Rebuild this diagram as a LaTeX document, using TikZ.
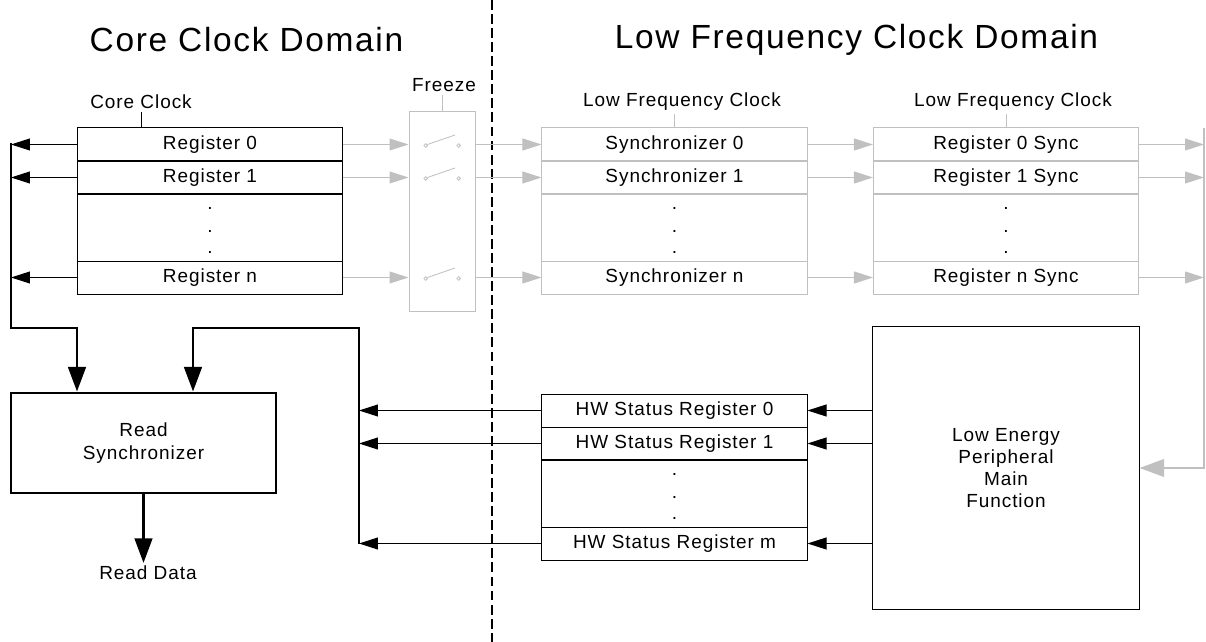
\documentclass[tikz,border=0pt]{standalone}
\usepackage{fontspec}
\setmainfont{Liberation Sans}[LetterSpace=5]
\usetikzlibrary{arrows.meta}
\definecolor{lfgray}{RGB}{192,192,192}

\begin{document}
\begin{tikzpicture}[x=0.025cm,y=-0.025cm,
        every node/.style={font=\fontsize{13.5}{16.5}\selectfont},
        regbox/.style={draw,line width=0.7pt,minimum width=6.625cm,minimum height=0.825cm,inner sep=0pt},
        dotbox/.style={regbox,minimum height=1.675cm},
        lfbox/.style={regbox,draw=lfgray},
        lfdots/.style={dotbox,draw=lfgray},
        clklabel/.style={inner sep=2pt},
        title/.style={font=\fontsize{23.8}{28}\selectfont},
        thin arrow/.style={line width=0.7pt,-{Triangle[length=13.5pt,width=8.5pt]}},
        thick arrow/.style={line width=2pt,-{Triangle[length=17.5pt,width=12.5pt]}},
        gray arrow/.style={thin arrow,color=lfgray},
        gray thick arrow/.style={thick arrow,line width=1.5pt,color=lfgray},
        switch/.style={lfgray,line width=0.6pt}]
    \useasboundingbox (0,0) rectangle (1206,642);

    % Domain titles and border
    \node[title] (cctitle) at (246.5,40) {Core Clock Domain};
    \node[title] (lftitle) at (856.5,40) {Low Frequency Clock Domain};
    \draw[line width=1.4pt,dash pattern=on 7pt off 3pt] (492,0) -- (492,642);

    % Core clock registers
    \node[regbox] (reg0) at (210,144.5) {Register 0};
    \node[regbox] (reg1) at (210,177.5) {Register 1};
    \node[dotbox] (regd) at (210,227.5) {};
    \node[regbox] (regn) at (210,277.5) {Register n};
    \node[clklabel] (ccl) at (141,102) {Core Clock};
    \draw[line width=0.7pt] (ccl.south) -- (ccl.south |- reg0.north);

    % Freeze switches
    \node[draw=lfgray,line width=0.7pt,minimum width=1.65cm,minimum height=4.975cm,inner sep=0pt] (frz) at (442,211.5) {};
    \node[clklabel] (frzl) at (444,85) {Freeze};
    \draw[lfgray,line width=0.7pt] (frz.north) -- (frz.north |- frzl.south);
    \foreach \sy in {144.5,177.5,277.5} {
        \draw[switch] (425.7,\sy+1) circle[radius=1.3pt] (458.7,\sy+1) circle[radius=1.3pt];
        \draw[switch] (427.5,\sy) -- (455,\sy-9.5);
    }

    % Synchronizers
    \node[lfbox] (sync0) at (674.5,144.5) {Synchronizer 0};
    \node[lfbox] (sync1) at (674.5,177.5) {Synchronizer 1};
    \node[lfdots] (syncd) at (674.5,227.5) {};
    \node[lfbox] (syncn) at (674.5,277.5) {Synchronizer n};
    \node[clklabel] (lfc1) at (682,102) {Low Frequency Clock};
    \draw[lfgray,line width=0.7pt] (sync0.north) -- (sync0.north |- lfc1.south);

    % Register syncs
    \node[lfbox] (rsync0) at (1006,144.5) {Register 0 Sync};
    \node[lfbox] (rsync1) at (1006,177.5) {Register 1 Sync};
    \node[lfdots] (rsyncd) at (1006,227.5) {};
    \node[lfbox] (rsyncn) at (1006,277.5) {Register n Sync};
    \node[clklabel] (lfc2) at (1013,102) {Low Frequency Clock};
    \draw[lfgray,line width=0.7pt] (rsync0.north) -- (rsync0.north |- lfc2.south);

    % HW status registers
    \node[regbox] (hw0) at (674.5,410.5) {HW Status Register 0};
    \node[regbox] (hw1) at (674.5,443.5) {HW Status Register 1};
    \node[dotbox] (hwd) at (674.5,493.5) {};
    \node[regbox] (hwm) at (674.5,543.5) {HW Status Register m};

    % dots
    \foreach \bx/\by in {210/194,674.5/194,1006/194,674.5/460}
        \foreach \dy in {16,39,60}
            \node[anchor=base,inner sep=0pt] at (\bx,\by+\dy) {.};

    % Read synchronizer and peripheral
    \node[draw,line width=2pt,minimum width=6.625cm,minimum height=2.5cm,align=center] (rdsync) at (143.5,443) {Read\\Synchronizer};
    \node[clklabel] (rdata) at (148,573) {Read Data};
    \node[draw,line width=0.7pt,minimum width=6.65cm,minimum height=7.05cm,align=center,font=\fontsize{13.5}{15.6}\selectfont] (lepm) at (1006,468) {Low Energy\\Peripheral\\Main\\Function};

    % bus coordinates
    \coordinate (bustop) at (11,143);
    \coordinate (rdin1) at (77,328);
    \coordinate (hwbus) at (359,544);
    \coordinate (rdin2) at (193,328);
    \coordinate (lfbus) at (1204,128);

    % Black arrows
    \foreach \r in {0,1,n}
        \draw[thin arrow] (reg\r.west) -- (reg\r.west -| bustop);
    \foreach \r in {0,1,m} {
        \draw[thin arrow] (hw\r.west) -- (hw\r.west -| hwbus);
        \draw[thin arrow] (hw\r.east -| lepm.west) -- (hw\r.east);
    }
    \draw[thick arrow] (bustop) -- (bustop |- rdin1) -- (rdin1) -- (rdin1 |- rdsync.north);
    \draw[thick arrow] (hwbus) -- (hwbus |- rdin2) -- (rdin2) -- (rdin2 |- rdsync.north);
    \draw[thick arrow] (rdsync.south) -- (rdsync.south |- rdata.north);

    % Gray arrows
    \foreach \r in {0,1,n} {
        \draw[gray arrow] (reg\r.east) -- (reg\r.east -| frz.west);
        \draw[gray arrow] (reg\r.east -| frz.east) -- (sync\r.west);
        \draw[gray arrow] (sync\r.east) -- (rsync\r.west);
        \draw[gray arrow] (rsync\r.east) -- (rsync\r.east -| lfbus);
    }
    \draw[gray thick arrow] (lfbus) -- (lfbus |- lepm.east) -- (lepm.east);
\end{tikzpicture}
\end{document}
